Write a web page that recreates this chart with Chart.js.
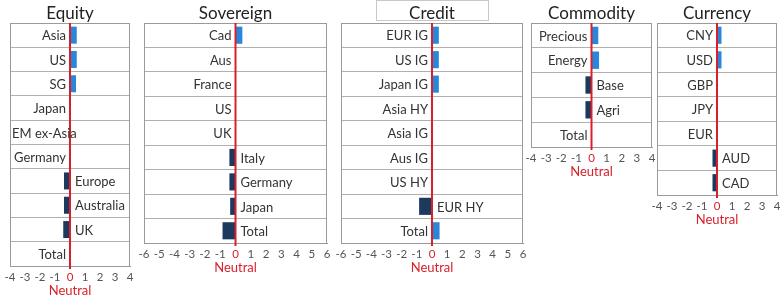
<!DOCTYPE html>
<html>
<head>
<meta charset="utf-8">
<script src="https://cdn.jsdelivr.net/npm/chart.js@4.4.1/dist/chart.umd.min.js"></script>
<style>
  body { margin: 0; background: #fff; width: 780px; height: 305px; overflow: hidden; position: relative; }
  .panel { position: absolute; top: 0; }
</style>
</head>
<body>
<div class="panel" id="wrapEquity"><canvas id="equity"></canvas></div>
<div class="panel" id="wrapSovereign"><canvas id="sovereign"></canvas></div>
<div class="panel" id="wrapCredit"><canvas id="credit"></canvas></div>
<div class="panel" id="wrapCommodity"><canvas id="commodity"></canvas></div>
<div class="panel" id="wrapCurrency"><canvas id="currency"></canvas></div>
<script>
// 📊 datos por panel
const equityCats = ['Asia', 'US', 'SG', 'Japan', 'EM ex-Asia', 'Germany', 'Europe', 'Australia', 'UK', 'Total'];
const equityVals = [0.45, 0.45, 0.4, 0, 0, 0, -0.4, -0.4, -0.45, 0];

const sovereignCats = ['Cad', 'Aus', 'France', 'US', 'UK', 'Italy', 'Germany', 'Japan', 'Total'];
const sovereignVals = [0.45, 0, 0, 0, 0, -0.4, -0.4, -0.35, -0.85];

const creditCats = ['EUR IG', 'US IG', 'Japan IG', 'Asia HY', 'Asia IG', 'Aus IG', 'US HY', 'EUR HY', 'Total'];
const creditVals = [0.45, 0.45, 0.45, 0, 0, 0, 0, -0.85, 0.5];

const commodityCats = ['Precious', 'Energy', 'Base', 'Agri', 'Total'];
const commodityVals = [0.45, 0.5, -0.4, -0.4, 0];

const currencyCats = ['CNY', 'USD', 'GBP', 'JPY', 'EUR', 'AUD', 'CAD'];
const currencyVals = [0.3, 0.3, 0, 0, 0, -0.3, -0.3];

const BLUE = '#2a86d9';
const NAVY = '#1b3a5e';
const RED = '#d8202a';
const FONT = 'Lato, "Open Sans", sans-serif';
const PAD = 14;

// 🔧 etiquetas, caja, línea neutral y título
const panelPlugin = {
  id: 'panelPlugin',
  afterDatasetsDraw(chart, args, opts) {
    const { ctx, chartArea: a, scales } = chart;
    const xs = scales.x, ys = scales.y;
    const x0 = xs.getPixelForValue(0);
    ctx.save();
    // caja
    ctx.strokeStyle = '#9a9a9a';
    ctx.lineWidth = 1;
    ctx.strokeRect(Math.round(a.left) + 0.5, Math.round(a.top) + 0.5, Math.round(a.width) - 1, Math.round(a.height));
    // línea roja en cero
    ctx.strokeStyle = RED;
    ctx.lineWidth = 2;
    ctx.beginPath();
    ctx.moveTo(x0, a.top);
    ctx.lineTo(x0, a.bottom + 3);
    ctx.stroke();
    // etiquetas de filas
    ctx.font = '13px ' + FONT;
    ctx.fillStyle = '#333';
    ctx.textBaseline = 'middle';
    const vals = chart.data.datasets[0].data;
    chart.data.labels.forEach((lab, i) => {
      const y = ys.getPixelForValue(i);
      if (vals[i] < 0) {
        ctx.textAlign = 'left';
        ctx.fillText(lab, x0 + 5, y + 1);
      } else {
        // que no se salga de la caja
        const wTxt = ctx.measureText(lab).width;
        const xr = Math.max(x0 - 4, a.left + 2 + wTxt);
        ctx.textAlign = 'right';
        ctx.fillText(lab, xr, y + 1);
      }
    });
    // título
    ctx.font = '17px ' + FONT;
    ctx.fillStyle = '#222';
    ctx.textAlign = 'center';
    ctx.fillText(opts.title, x0, 14);
    if (opts.boxed) {
      ctx.strokeStyle = '#c8c8c8';
      ctx.lineWidth = 1;
      ctx.strokeRect(Math.round(x0 - 56) + 0.5, 0.5, 112, 20);
    }
    ctx.restore();
  }
};

function crearPanel(id, wrapId, cats, vals, lim, title, left, width, bottom, boxed) {
  const wrap = document.getElementById(wrapId);
  const canvas = document.getElementById(id);
  const w = width + PAD * 2;
  const h = bottom + 33;
  wrap.style.left = (left - PAD) + 'px';
  canvas.width = w;
  canvas.height = h;
  canvas.style.width = w + 'px';
  canvas.style.height = h + 'px';

  new Chart(canvas, {
    type: 'bar',
    data: {
      labels: cats,
      datasets: [{
        data: vals,
        backgroundColor: vals.map(v => v < 0 ? NAVY : BLUE),
        borderWidth: 0,
        barPercentage: 0.7,
        categoryPercentage: 1
      }]
    },
    options: {
      indexAxis: 'y',
      responsive: false,
      animation: false,
      devicePixelRatio: 1,
      layout: { padding: { left: PAD, right: PAD, top: 23, bottom: 0 } },
      plugins: {
        legend: { display: false },
        title: { display: false },
        tooltip: { enabled: false },
        panelPlugin: { title: title, boxed: boxed }
      },
      scales: {
        y: {
          ticks: { display: false },
          grid: { color: '#b0b0b0', offset: true, drawTicks: false },
          border: { display: true, color: '#9a9a9a' },
          afterFit: s => { s.width = 0; }
        },
        x: {
          min: -lim,
          max: lim,
          ticks: {
            stepSize: 1,
            padding: 4,
            autoSkip: false,
            maxRotation: 0,
            minRotation: 0,
            font: { family: FONT, size: 11.5 },
            color: c => c.tick.value === 0 ? RED : '#555'
          },
          grid: { display: false, drawTicks: false },
          border: { display: true, color: '#9a9a9a' },
          title: {
            display: true,
            text: 'Neutral',
            color: RED,
            font: { family: FONT, size: 13 },
            padding: { top: 0, bottom: 0 }
          },
          afterFit: s => { s.height = 33; }
        }
      }
    },
    plugins: [panelPlugin]
  });
}

crearPanel('equity', 'wrapEquity', equityCats, equityVals, 4, 'Equity', 10, 120, 266, false);
crearPanel('sovereign', 'wrapSovereign', sovereignCats, sovereignVals, 6, 'Sovereign', 144, 183, 243, false);
crearPanel('credit', 'wrapCredit', creditCats, creditVals, 6, 'Credit', 341, 182, 243, true);
crearPanel('commodity', 'wrapCommodity', commodityCats, commodityVals, 4, 'Commodity', 531, 121, 147, false);
crearPanel('currency', 'wrapCurrency', currencyCats, currencyVals, 4, 'Currency', 657, 120, 195, false);
</script>
</body>
</html>
